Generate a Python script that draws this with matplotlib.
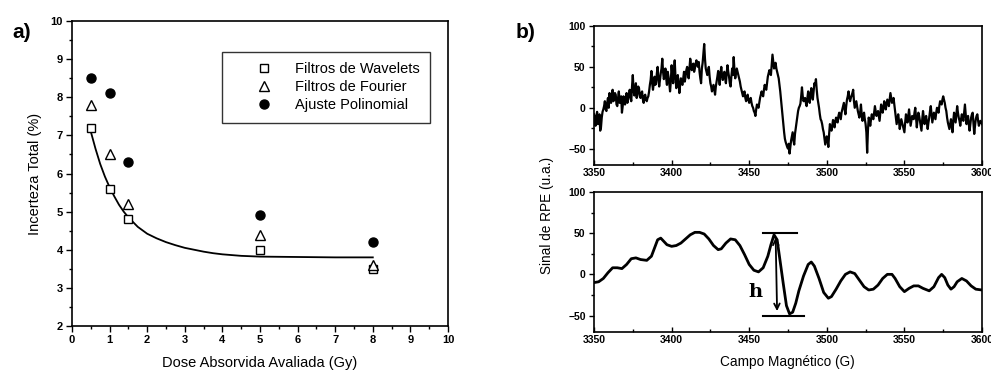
import matplotlib
matplotlib.use("Agg")
import matplotlib.pyplot as plt
from matplotlib.ticker import MultipleLocator

plt.rcParams["font.family"] = ["Liberation Sans", "DejaVu Sans"]

# ---- panel a) data ----
dose = [0.5, 1.0, 1.5, 5.0, 8.0]
wavelets = [7.2, 5.6, 4.8, 4.0, 3.5]
fourier = [7.8, 6.5, 5.2, 4.4, 3.6]
polinomial = [8.5, 8.1, 6.3, 4.9, 4.2]
fit_x = [0.5, 0.625, 0.75, 0.875, 1.0, 1.125, 1.25, 1.375, 1.5, 1.75, 2.0, 2.25,
         2.5, 2.75, 3.0, 3.25, 3.5, 3.75, 4.0, 4.5, 5.0, 6.0, 7.0, 8.0]
fit_y = [7.1, 6.65, 6.25, 5.92, 5.64, 5.4, 5.18, 5.0, 4.85, 4.6, 4.42, 4.3,
         4.2, 4.12, 4.05, 4.0, 3.95, 3.91, 3.88, 3.84, 3.82, 3.81, 3.8, 3.8]

# ---- panel b) data ----
field_start = 3350
# noisy spectrum, read at whole gauss values 3350..3600
raw_signal = [
    -8, -22, -5, -18, -28, -12, -2, 8, -4, 12,
    18, 6, 22, 10, 16, 2, 20, 8, -6, 14,
    4, 18, 10, 22, 8, 40, 15, 30, 18, 24,
    12, 20, 6, 16, 8, 14, 28, 45, 22, 38,
    30, 50, 26, 42, 60, 35, 48, 28, 38, 20,
    52, 30, 58, 24, 40, 18, 36, 28, 44, 38,
    50, 36, 60, 46, 54, 48, 58, 50, 44, 30,
    55, 78, 48, 40, 50, 30, 20, 28, 16, 32,
    45, 28, 50, 34, 44, 30, 52, 38, 26, 48,
    62, 36, 48, 40, 32, 22, 14, 20, 8, 16,
    6, 12, 2, -4, -10, 4, 0, 12, 20, 14,
    28, 22, 38, 46, 40, 65, 48, 55, 44, 36,
    20, 0, -20, -38, -45, -50, -56, -40, -30, -45,
    -25, -10, 0, 5, 25, 8, 12, 2, 20, 6,
    24, 10, 30, 35, 12, 0, -14, -20, -30, -45,
    -35, -48, -20, -28, -15, -24, -12, -18, -6, -14,
    -2, 6, -8, 10, 20, 8, 15, 22, 0, 8,
    -4, -12, 4, -16, -6, -20, -55, -12, -22, -8,
    -14, 2, -10, -4, -16, 4, -6, 8, -2, 10,
    2, 18, 6, 12, -4, -20, -8, -26, -14, -22,
    -30, -8, -18, -2, -22, -10, -14, 0, -24, -6,
    -16, -28, -4, -20, -10, -26, -12, 2, -18, -6,
    -14, 0, -6, 8, 4, 14, 6, -4, -18, -26,
    -14, -30, -6, -18, 2, -12, -22, -8, -16, 4,
    -20, -10, -28, -12, -6, -32, -14, -8, -22, -16,
    -20,
]
# same spectrum, read at the half-gauss points 3350.5..3599.5
raw_signal_half = [
    -15, -10, -20, -8, -24, -5, 2, -2, 6, 0,
    10, 14, 8, 18, 4, 12, 6, 14, 2, 8,
    12, 6, 16, 14, 26, 22, 20, 12, 26, 14,
    18, 10, 14, 10, 12, 20, 34, 30, 30, 28,
    42, 36, 34, 48, 44, 40, 36, 44, 30, 32,
    40, 44, 38, 32, 30, 28, 30, 36, 32, 46,
    42, 48, 52, 50, 44, 54, 52, 56, 36, 48,
    66, 60, 44, 46, 38, 26, 24, 22, 26, 38,
    36, 42, 40, 38, 36, 42, 44, 30, 38, 40,
    46, 42, 44, 36, 26, 18, 18, 12, 12, 10,
    8, 6, 0, -6, -2, 2, 6, 16, 16, 22,
    24, 30, 42, 42, 52, 56, 50, 48, 40, 28,
    10, -10, -30, -42, -48, -44, -48, -35, -40, -32,
    -18, -4, 2, 14, 14, 10, 6, 12, 12, 16,
    16, 20, 28, 22, 6, -8, -16, -26, -38, -40,
    -40, -32, -24, -22, -20, -16, -16, -10, -10, -6,
    2, -2, 2, 14, 12, 12, 18, 8, 4, 2,
    -8, -6, -8, -10, -14, -30, -28, -16, -14, -12,
    -6, -4, -8, -10, -6, -2, 0, 2, 4, 6,
    10, 12, 8, 4, -12, -14, -16, -20, -18, -26,
    -18, -12, -10, -12, -16, -12, -6, -12, -14, -10,
    -22, -14, -12, -14, -18, -18, -4, -8, -12, -10,
    -6, -2, 2, 6, 10, 10, 0, -12, -22, -20,
    -22, -16, -12, -8, -6, -16, -14, -12, -6, -8,
    -14, -20, -20, -8, -20, -22, -10, -16, -18, -18,
]

smooth_field = [3350, 3353, 3356, 3359, 3362, 3365, 3368, 3371, 3374, 3377, 3380, 3384,
                3387, 3389, 3391, 3393, 3395, 3397, 3400, 3403, 3406, 3409, 3412, 3415,
                3418, 3421, 3424, 3427, 3430, 3432, 3435, 3438, 3441, 3444, 3447, 3450,
                3453, 3456, 3459, 3462, 3464, 3466, 3468, 3470, 3472, 3474, 3476, 3478,
                3480, 3482, 3485, 3488, 3490, 3492, 3495, 3498, 3501, 3503, 3506, 3509,
                3512, 3515, 3518, 3521, 3524, 3527, 3530, 3533, 3536, 3539, 3542, 3544,
                3547, 3550, 3553, 3556, 3559, 3562, 3566, 3569, 3572, 3574, 3576, 3578,
                3580, 3582, 3584, 3587, 3590, 3593, 3596, 3600]
smooth_signal = [-10, -9, -5, 2, 8, 8, 7, 12, 19, 20, 18, 17,
                 22, 32, 42, 44, 40, 36, 34, 35, 38, 43, 48, 51,
                 51, 49, 43, 35, 30, 31, 38, 43, 42, 35, 24, 12,
                 5, 3, 8, 22, 36, 48, 42, 15, -12, -38, -48, -46,
                 -35, -20, -2, 12, 15, 10, -5, -22, -29, -27, -18, -8,
                 0, 3, 1, -7, -15, -19, -18, -13, -5, 0, 0, -5,
                 -15, -21, -17, -14, -14, -17, -20, -15, -4, 0, -4, -13,
                 -18, -15, -9, -5, -8, -14, -18, -19]

# interleave whole and half-gauss readings
raw_field, raw_all = [], []
for i, v in enumerate(raw_signal):
    raw_field.append(field_start + i)
    raw_all.append(v)
    if i < len(raw_signal_half):
        raw_field.append(field_start + i + 0.5)
        raw_all.append(raw_signal_half[i])

W, H = 991, 371
fig = plt.figure(figsize=(W / 100, H / 100), dpi=100)


def px_axes(x0, y0, x1, y1):
    return fig.add_axes([x0 / W, 1 - y1 / H, (x1 - x0) / W, (y1 - y0) / H])


def style_ticks(a, size):
    for lbl in a.get_xticklabels() + a.get_yticklabels():
        lbl.set_fontsize(size)
        lbl.set_fontweight("bold")
    for s in a.spines.values():
        s.set_linewidth(1.2)


# ---------------- panel a ----------------
ax = px_axes(72, 21, 448, 326)
ax.plot(fit_x, fit_y, color="black", lw=1.3, zorder=2)
ax.plot(dose, wavelets, "s", mfc="white", mec="black", ms=5.5, mew=1.0,
        label="Filtros de Wavelets", zorder=3)
ax.plot(dose, fourier, "^", mfc="white", mec="black", ms=7, mew=1.0,
        label="Filtros de Fourier", zorder=3)
ax.plot(dose, polinomial, "o", color="black", ms=6.5,
        label="Ajuste Polinomial", zorder=3)
ax.set_xlim(0, 10)
ax.set_ylim(2, 10)
ax.xaxis.set_major_locator(MultipleLocator(1))
ax.xaxis.set_minor_locator(MultipleLocator(0.5))
ax.yaxis.set_major_locator(MultipleLocator(1))
ax.yaxis.set_minor_locator(MultipleLocator(0.5))
ax.tick_params(which="both", direction="out", width=1.0)
ax.tick_params(which="major", length=4, pad=2.5)
ax.tick_params(which="minor", length=2)
style_ticks(ax, 8)
ax.set_ylabel("Incerteza Total (%)", fontsize=10.5, labelpad=6)
fig.text(260 / W, 1 - 363 / H, "Dose Absorvida Avaliada (Gy)", fontsize=10.5,
         ha="center", va="center")
leg = ax.legend(loc="upper right", bbox_to_anchor=(0.952, 0.898), borderaxespad=0,
                fontsize=10.5, frameon=True, fancybox=False, edgecolor="black",
                handletextpad=0.0, borderpad=0.7, labelspacing=0.28, handlelength=4.3)
leg.get_frame().set_linewidth(1.0)
fig.text(12 / W, 1 - 33 / H, "a)", fontsize=15, fontweight="bold", va="center")

# ---------------- panel b ----------------
ax_top = px_axes(594, 26, 982, 165)
ax_bot = px_axes(594, 192, 982, 332)

ax_top.plot(raw_field, raw_all, color="black", lw=1.6)
ax_bot.plot(smooth_field, smooth_signal, color="black", lw=2.0,
            solid_joinstyle="round", solid_capstyle="round")

for a in (ax_top, ax_bot):
    a.set_xlim(3350, 3600)
    a.set_ylim(-70, 100)
    a.xaxis.set_major_locator(MultipleLocator(50))
    a.xaxis.set_minor_locator(MultipleLocator(25))
    a.yaxis.set_major_locator(MultipleLocator(50))
    a.yaxis.set_minor_locator(MultipleLocator(25))
    a.tick_params(axis="x", which="both", direction="in", width=1.0)
    a.tick_params(axis="y", which="both", direction="out", width=1.0)
    a.tick_params(which="major", length=3.5, pad=2.5)
    a.tick_params(which="minor", length=2)
    style_ticks(a, 7.5)

# peak-to-peak marker on the smoothed spectrum
ax_bot.plot([3459, 3481], [50, 50], color="black", lw=1.5)
ax_bot.plot([3459, 3485], [-50, -50], color="black", lw=1.5)
ax_bot.annotate("", xy=(3468, -48), xytext=(3467, 48),
                arrowprops=dict(arrowstyle="<->", color="black", lw=1.3,
                                mutation_scale=10))
ax_bot.text(3454, -21, "h", fontsize=14, fontweight="bold", family="DejaVu Serif",
            ha="center", va="center")

fig.text(547 / W, 1 - 215 / H, "Sinal de RPE (u.a.)", rotation=90,
         fontsize=9.8, ha="center", va="center")
fig.text(787 / W, 1 - 362 / H, "Campo Magnético (G)", fontsize=9.8,
         ha="center", va="center")
fig.text(516 / W, 1 - 33 / H, "b)", fontsize=15, fontweight="bold", va="center")

fig.savefig("out.png", dpi=100)
